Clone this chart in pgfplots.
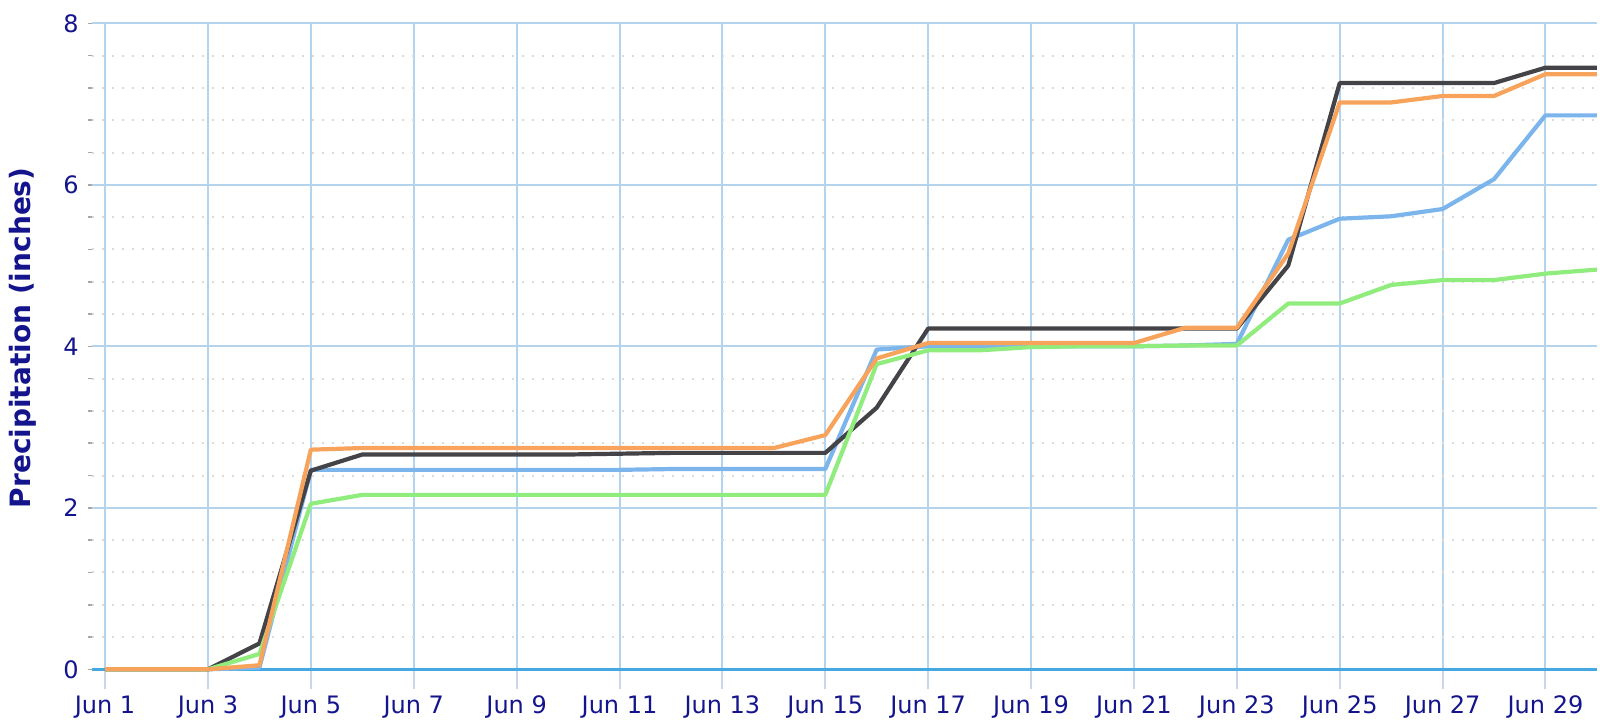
\documentclass[border=0pt]{standalone}
\usepackage{fontspec}
\setmainfont{DejaVu Sans}
\usepackage{pgfplots}
\pgfplotsset{compat=1.18}
\definecolor{sblue}{HTML}{7CB5EC}
\definecolor{sdark}{HTML}{434348}
\definecolor{sgreen}{HTML}{90ED7D}
\definecolor{sorange}{HTML}{F7A35C}
\definecolor{gridblue}{RGB}{180,212,238}
\definecolor{axisblue}{RGB}{70,168,225}
\definecolor{tickx}{HTML}{CCD6EB}
\definecolor{navy}{RGB}{20,20,140}
\begin{document}
\begin{tikzpicture}
\useasboundingbox (-45.85pt,-24.85pt) rectangle (754.15pt,334.65pt);
\begin{axis}[
  scale only axis, width=752.6pt, height=323pt,
  at={(0,0)}, anchor=south west,
  xmin=0.74, xmax=30, ymin=0, ymax=8,
  axis x line*=bottom, axis y line*=left,
  x axis line style={draw=axisblue, line width=1.2pt, -},
  y axis line style={draw=none},
  xtick={1,3,...,29},
  xticklabels={Jun 1,Jun 3,Jun 5,Jun 7,Jun 9,Jun 11,Jun 13,Jun 15,Jun 17,Jun 19,Jun 21,Jun 23,Jun 25,Jun 27,Jun 29},
  ytick={0,2,4,6,8},
  minor ytick={0,0.4,0.8,1.2,1.6,2,2.4,2.8,3.2,3.6,4,4.4,4.8,5.2,5.6,6,6.4,6.8,7.2,7.6,8},
  tick align=outside,
  major tick length=10pt, minor tick length=2pt,
  xtick style={draw=tickx, line width=1pt},
  ytick style={draw=gray!70, line width=0.8pt},
  every major y tick/.append style={draw=none},
  xmajorgrids, ymajorgrids, yminorgrids,
  major grid style={draw=gridblue, line width=1pt},
  minor grid style={draw=gray!28, line width=1pt, dash pattern=on 1pt off 4pt},
  /pgf/number format/assume math mode=true,
  ticklabel style={font=\fontsize{12}{14}\selectfont, text=navy},
  yticklabel style={inner sep=0pt, xshift=3.7pt},
  xticklabel style={inner sep=0pt, yshift=-3pt},
  ylabel={Precipitation (inches)},
  ylabel style={at={(axis description cs:-0.046,0.513)}, anchor=center, font=\fontsize{14}{16}\selectfont\bfseries, text=navy},
  every axis plot/.append style={line width=2.1pt, line join=round, mark=none},
  clip=false,
]
\addplot[sblue] coordinates {
(1,0) (2,0) (3,0) (4,0.02) (5,2.47) (6,2.47) (7,2.47) (8,2.47) (9,2.47) (10,2.47)
(11,2.47) (12,2.48) (13,2.48) (14,2.48) (15,2.48) (16,3.96) (17,4.0) (18,4.0) (19,4.0) (20,4.0)
(21,4.0) (22,4.01) (23,4.03) (24,5.32) (25,5.58) (26,5.61) (27,5.70) (28,6.07) (29,6.86) (30,6.86)};
\addplot[sdark] coordinates {
(1,0) (2,0) (3,0) (4,0.32) (5,2.46) (6,2.66) (7,2.66) (8,2.66) (9,2.66) (10,2.66)
(11,2.67) (12,2.68) (13,2.68) (14,2.68) (15,2.68) (16,3.24) (17,4.22) (18,4.22) (19,4.22) (20,4.22)
(21,4.22) (22,4.22) (23,4.22) (24,5.0) (25,7.26) (26,7.26) (27,7.26) (28,7.26) (29,7.45) (30,7.45)};
\addplot[sgreen] coordinates {
(1,0) (2,0) (3,0) (4,0.19) (5,2.05) (6,2.16) (7,2.16) (8,2.16) (9,2.16) (10,2.16)
(11,2.16) (12,2.16) (13,2.16) (14,2.16) (15,2.16) (16,3.78) (17,3.95) (18,3.95) (19,3.99) (20,4.0)
(21,4.0) (22,4.01) (23,4.01) (24,4.53) (25,4.53) (26,4.76) (27,4.82) (28,4.82) (29,4.90) (30,4.95)};
\addplot[sorange] coordinates {
(1,0) (2,0) (3,0) (4,0.05) (5,2.72) (6,2.74) (7,2.74) (8,2.74) (9,2.74) (10,2.74)
(11,2.74) (12,2.74) (13,2.74) (14,2.74) (15,2.90) (16,3.85) (17,4.04) (18,4.04) (19,4.04) (20,4.04)
(21,4.04) (22,4.23) (23,4.23) (24,5.15) (25,7.02) (26,7.02) (27,7.10) (28,7.10) (29,7.37) (30,7.37)};
\end{axis}
\end{tikzpicture}
\end{document}
